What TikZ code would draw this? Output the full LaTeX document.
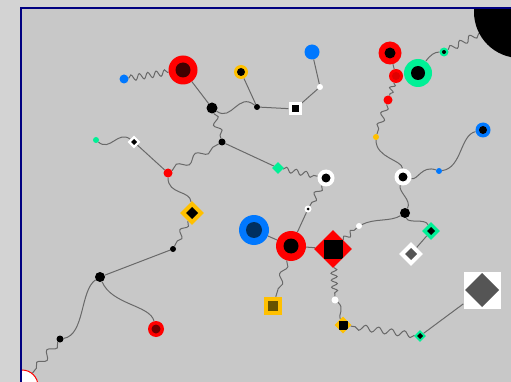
\documentclass[tikz,border=0pt]{standalone}
\usetikzlibrary{shapes.geometric,decorations.pathmorphing}
\pgfdeclarelayer{back}
\pgfdeclarelayer{edges}
\pgfsetlayers{back,edges,main}
\definecolor{outerbg}{RGB}{211,211,211}
\definecolor{panelc}{RGB}{200,200,200}
\definecolor{navyc}{RGB}{0,0,128}
\definecolor{edgec}{RGB}{105,105,105}
\definecolor{cred}{RGB}{255,0,0}
\definecolor{cyel}{RGB}{255,192,0}
\definecolor{cblue}{RGB}{0,120,255}
\definecolor{cgreen}{RGB}{0,240,150}
\definecolor{dred}{RGB}{64,0,0}
\definecolor{mred}{RGB}{110,0,0}
\definecolor{navyin}{RGB}{0,48,96}
\definecolor{olivec}{RGB}{102,82,0}
\definecolor{gdark}{RGB}{85,85,85}
\definecolor{red2}{RGB}{224,0,0}
\tikzset{
 edge/.style={draw=edgec, line width=1pt},
 wavy/.style 2 args={edge, decorate, decoration={snake, segment length=#1, amplitude=#2}},
 dot/.style 2 args={circle, inner sep=0pt, minimum size=#1, fill=#2},
 ring/.style n args={4}{circle, inner sep=0pt, minimum size=#1, fill=#3,
   path picture={\fill[#4] (path picture bounding box.center) circle[radius=#2];}},
 dia/.style 2 args={diamond, aspect=1, inner sep=0pt, minimum size=#1, fill=#2},
 dd/.style n args={4}{diamond, aspect=1, inner sep=0pt, minimum size=#1, fill=#3,
   path picture={\fill[#4] (path picture bounding box.center) ++(#2,0pt) -- ++(-#2,-#2) -- ++(-#2,#2) -- ++(#2,#2) -- cycle;}},
 ds/.style n args={4}{diamond, aspect=1, inner sep=0pt, minimum size=#1, fill=#3,
   path picture={\fill[#4] (path picture bounding box.center) ++(-#2,-#2) rectangle ++(2*#2,2*#2);}},
 sq/.style n args={4}{rectangle, inner sep=0pt, minimum size=#1, fill=#3,
   path picture={\fill[#4] (path picture bounding box.center) ++(-#2,-#2) rectangle ++(2*#2,2*#2);}},
 sd/.style n args={4}{rectangle, inner sep=0pt, minimum size=#1, fill=#3,
   path picture={\fill[#4] (path picture bounding box.center) ++(#2,0pt) -- ++(-#2,-#2) -- ++(-#2,#2) -- ++(#2,#2) -- cycle;}},
}
\begin{document}
\begin{tikzpicture}[x=1pt,y=-1pt]
\useasboundingbox (0,0) rectangle (511,382);
\begin{pgfonlayer}{back}
\fill[outerbg] (0,0) rectangle (511,382);
\fill[panelc] (21,8) rectangle (511,382);
\end{pgfonlayer}
\begin{scope}
\clip (21,8) rectangle (511,382);
\node[dot={92pt}{black}] (tr) at (520,12) {};
\node[circle, inner sep=0pt, minimum size=32pt, fill=white, draw=cred, line width=1pt] (bl) at (22,386) {};
\end{scope}
% nodes
\node[dot={9pt}{cblue}] (n1) at (124,79) {};
\node[ring={29pt}{7.5pt}{cred}{dred}] (n2) at (183,70) {};
\node[ring={14pt}{4pt}{cyel}{black}] (n3) at (241,72) {};
\node[dot={11pt}{black}] (n4) at (212,108) {};
\node[dot={6pt}{black}] (n5) at (257,107) {};
\node[dot={15pt}{cblue}] (n6) at (312,52) {};
\node[dot={6pt}{white}] (n7) at (320,87) {};
\node[sq={13pt}{3.5pt}{white}{black}] (n8) at (295,109) {};
\node[dot={7pt}{black}] (n9) at (222,142) {};
\node[dd={13pt}{3pt}{white}{black}] (n10) at (134,142) {};
\node[dot={6pt}{cgreen}] (n11) at (96,140) {};
\node[dot={9pt}{cred}] (n12) at (168,173) {};
\node[dia={12pt}{cgreen}] (n13) at (278,168) {};
\node[ring={17pt}{4.5pt}{white}{black}] (n14) at (326,178) {};
\node[ring={23pt}{5.5pt}{cred}{black}] (n15) at (390,53) {};
\node[ring={14pt}{4pt}{cred}{red2}] (n16) at (396,76) {};
\node[ring={28pt}{7pt}{cgreen}{black}] (n17) at (418,73) {};
\node[ring={9pt}{2pt}{cgreen}{black}] (n18) at (444,52) {};
\node[dot={9pt}{cred}] (n19) at (388,100) {};
\node[dot={6pt}{cyel}] (n20) at (376,137) {};
\node[ring={17pt}{4.5pt}{white}{black}] (n21) at (403,177) {};
\node[dot={6pt}{cblue}] (n22) at (439,171) {};
\node[ring={15pt}{4pt}{cblue}{black}] (n23) at (483,130) {};
\node[dd={24pt}{6pt}{cyel}{black}] (n24) at (192,213) {};
\node[dot={6pt}{black}] (n25) at (173,249) {};
\node[dot={10pt}{black}] (n26) at (100,277) {};
\node[ring={16pt}{4.5pt}{cred}{mred}] (n27) at (156,329) {};
\node[dot={7pt}{black}] (n28) at (60,339) {};
\node[ring={7pt}{1.5pt}{white}{black}] (n29) at (308,209) {};
\node[ring={30pt}{7.5pt}{cred}{black}] (n30) at (291,246) {};
\node[ring={30pt}{8pt}{cblue}{navyin}] (n31) at (254,230) {};
\node[ds={38pt}{9.5pt}{cred}{black}] (n32) at (333,249) {};
\node[dot={6pt}{white}] (n33) at (359,226) {};
\node[dot={10pt}{black}] (n34) at (405,213) {};
\node[dd={18pt}{4pt}{cgreen}{black}] (n35) at (431,231) {};
\node[dd={24pt}{6pt}{white}{gdark}] (n36) at (411,254) {};
\node[sd={37pt}{17pt}{white}{gdark}] (n37) at (482,290) {};
\node[dd={12pt}{3pt}{cgreen}{black}] (n38) at (420,336) {};
\node[ds={17pt}{4.5pt}{cyel}{black}] (n39) at (343,325) {};
\node[dot={7pt}{white}] (n40) at (335,300) {};
\node[sq={18pt}{5pt}{cyel}{olivec}] (n41) at (273,306) {};
% edges
\begin{pgfonlayer}{edges}
\draw[wavy={8.5pt}{3pt}] (n1) -- (n2);
\draw[edge] (n2) -- (n4);
\draw[edge] (n4) .. controls (232,122) and (238,92) .. (n5);
\draw[edge] (n3) -- (n5);
\draw[edge] (n5) -- (n8);
\draw[edge] (n6) -- (n7);
\draw[edge] (n7) -- (n8);
\draw[wavy={14pt}{3.5pt}] (n4) -- (n9);
\draw[edge] (n9) -- (n13);
\draw[wavy={10pt}{2.5pt}] (n13) -- (n14);
\draw[edge] (n11) .. controls (110,152) and (118,130) .. (n10);
\draw[edge] (n10) -- (n12);
\draw[wavy={22pt}{3.5pt}] (n12) -- (n9);
\draw[edge] (n12) .. controls (168,195) and (190,190) .. (n24);
\draw[wavy={14pt}{3pt}] (n24) -- (n25);
\draw[edge] (n25) -- (n26);
\draw[edge] (n26) .. controls (112,305) and (150,305) .. (n27);
\draw[edge] (n26) .. controls (80,290) and (85,335) .. (n28);
\draw[wavy={16pt}{3.5pt}] (n28) -- (bl);
\draw[wavy={12pt}{3pt}] (n14) -- (n29);
\draw[edge] (n29) -- (n30);
\draw[edge] (n31) -- (n30);
\draw[edge] (n30) -- (n32);
\draw[wavy={9pt}{2.5pt}] (n32) -- (n33);
\draw[edge] (n33) .. controls (375,218) and (390,222) .. (n34);
\draw[edge] (n21) .. controls (398,192) and (412,200) .. (n34);
\draw[edge] (n34) .. controls (408,224) and (425,218) .. (n35);
\draw[edge] (n35) -- (n36);
\draw[edge] (n37) -- (n38);
\draw[wavy={13pt}{3pt}] (n38) -- (n39);
\draw[wavy={7pt}{3pt}] (n32) -- (n40);
\draw[edge] (n40) .. controls (345,308) and (338,315) .. (n39);
\draw[wavy={18pt}{3pt}] (n30) -- (n41);
\draw[edge] (n15) -- (n16);
\draw[wavy={7pt}{2.5pt}] (n16) -- (n19);
\draw[wavy={12pt}{3pt}] (n19) -- (n20);
\draw[edge] (n20) .. controls (376,158) and (402,160) .. (n21);
\draw[edge] (n17) .. controls (430,55) and (435,52) .. (n18);
\draw[wavy={11pt}{3pt}] (n18) -- (tr);
\draw[edge] (n21) .. controls (418,180) and (422,165) .. (n22);
\draw[edge] (n22) .. controls (462,168) and (460,135) .. (n23);
\end{pgfonlayer}
\draw[navyc, line width=1.3pt] (21,382) -- (21,8) -- (511,8);
\end{tikzpicture}
\end{document}
